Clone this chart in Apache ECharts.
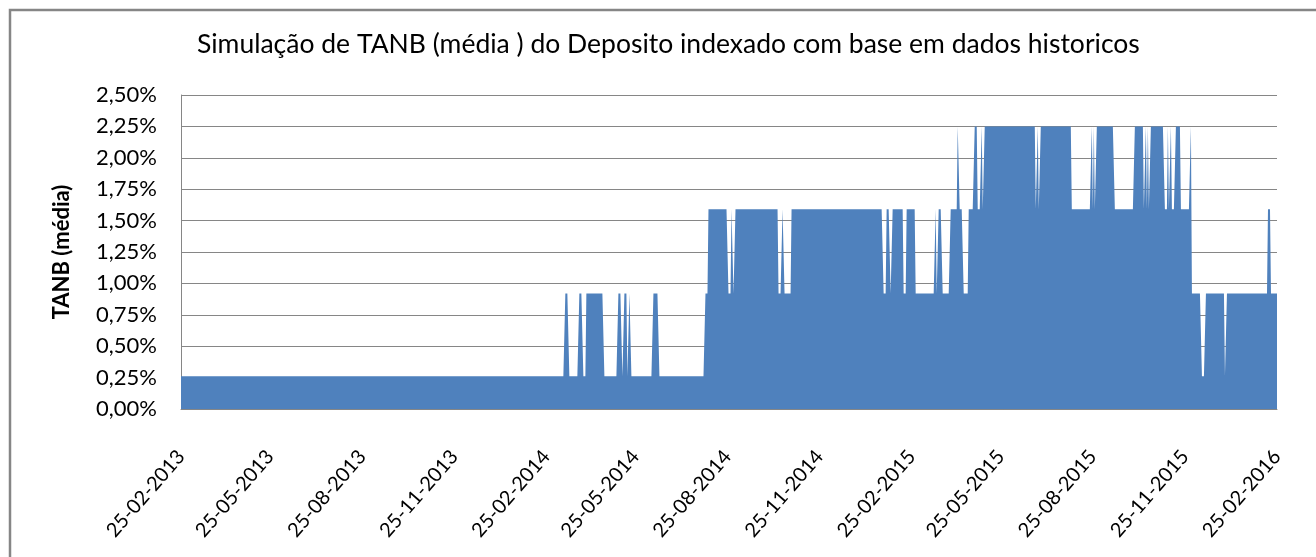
<!DOCTYPE html>
<html><head><meta charset="utf-8">
<script src="https://cdn.jsdelivr.net/npm/echarts@6/dist/echarts.min.js"></script>
<style>html,body{margin:0;padding:0;background:#fff}#c{width:1316px;height:557px}</style>
</head><body><div id="c"></div>
<script>
const titleText = 'Simulação de TANB (média ) do Deposito indexado com base em dados historicos';
const yAxisTitle = 'TANB (média)';
const firstDate = '25-02-2013';
const lastDate = '25-02-2016';
// months whose 25th day carries a label (every quarter)
const labelMonths = ['02', '05', '08', '11'];
// TANB (%): value holds from its start date until the next start date
const runStartDates = [
  '25-02-2013', '16-03-2014', '20-03-2014', '30-03-2014', '03-04-2014', '06-04-2014',
  '24-04-2014', '08-05-2014', '12-05-2014', '14-05-2014', '17-05-2014', '19-05-2014',
  '21-05-2014', '12-06-2014', '18-06-2014', '03-08-2014', '06-08-2014', '26-08-2014',
  '29-08-2014', '31-08-2014', '02-09-2014', '15-10-2014', '19-10-2014', '21-10-2014',
  '28-10-2014', '28-01-2015', '31-01-2015', '04-02-2015', '06-02-2015', '17-02-2015',
  '20-02-2015', '01-03-2015', '21-03-2015', '22-03-2015', '24-03-2015', '28-03-2015',
  '05-04-2015', '12-04-2015', '14-04-2015', '18-04-2015', '23-04-2015', '29-04-2015',
  '02-05-2015', '06-05-2015', '07-05-2015', '09-05-2015', '29-06-2015', '01-07-2015',
  '02-07-2015', '04-07-2015', '04-08-2015', '24-08-2015', '25-08-2015', '26-08-2015',
  '27-08-2015', '29-08-2015', '16-09-2015', '06-10-2015', '15-10-2015', '17-10-2015',
  '18-10-2015', '19-10-2015', '20-10-2015', '22-10-2015', '05-11-2015', '08-11-2015',
  '09-11-2015', '11-11-2015', '12-11-2015', '16-11-2015', '21-11-2015', '01-12-2015',
  '02-12-2015', '12-12-2015', '16-12-2015', '04-01-2016', '06-01-2016', '16-02-2016',
  '19-02-2016'
];
const runValues = [
  0.26, 0.92, 0.26, 0.92, 0.26, 0.92,
  0.26, 0.92, 0.26, 0.92, 0.26, 0.92,
  0.26, 0.92, 0.26, 0.92, 1.59, 0.92,
  1.59, 0.92, 1.59, 0.92, 1.59, 0.92,
  1.59, 0.92, 1.59, 0.92, 1.59, 0.92,
  1.59, 0.92, 1.59, 0.92, 1.59, 0.92,
  1.59, 2.25, 1.59, 0.92, 1.59, 2.25,
  1.59, 2.25, 1.59, 2.25, 1.59, 2.25,
  1.59, 2.25, 1.59, 2.25, 1.59, 2.25,
  1.59, 2.25, 1.59, 2.25, 1.59, 2.25,
  1.59, 2.25, 1.59, 2.25, 1.59, 2.25,
  1.59, 2.25, 1.59, 2.25, 1.59, 2.25,
  0.92, 0.26, 0.92, 0.26, 0.92, 1.59,
  0.92
];

function parseD(s) { const p = s.split('-'); return Date.UTC(+p[2], +p[1] - 1, +p[0]); }
function fmtD(t) {
  const d = new Date(t);
  const dd = String(d.getUTCDate()).padStart(2, '0');
  const mm = String(d.getUTCMonth() + 1).padStart(2, '0');
  return dd + '-' + mm + '-' + d.getUTCFullYear();
}
const DAY = 86400000;
const categories = [];
const values = [];
const runTimes = runStartDates.map(parseD);
let r = 0;
for (let t = parseD(firstDate); t <= parseD(lastDate); t += DAY) {
  while (r + 1 < runTimes.length && runTimes[r + 1] <= t) r++;
  categories.push(fmtD(t));
  values.push(runValues[r]);
}

const chart = echarts.init(document.getElementById('c'), null, { renderer: 'canvas' });
const FONT = 'Lato, "Open Sans", sans-serif';
chart.setOption({
  animation: false,
  backgroundColor: '#ffffff',
  title: {
    text: titleText, left: 197, top: 31, padding: 0,
    textStyle: { fontFamily: FONT, fontSize: 26.5, fontWeight: 'normal', color: '#000' }
  },
  graphic: [{
    type: 'rect', silent: true, z: -1,
    shape: { x: 10, y: 10, width: 1340, height: 580 },
    style: { fill: 'none', stroke: '#868686', lineWidth: 2.5 }
  }],
  grid: { left: 181, right: 39, top: 95, bottom: 148, containLabel: false },
  xAxis: {
    type: 'category', data: categories, boundaryGap: false,
    axisLine: { lineStyle: { color: '#868686', width: 1 } },
    axisTick: { show: false },
    splitLine: { show: false },
    axisLabel: {
      rotate: 49, margin: 44, fontFamily: FONT, fontSize: 20, color: '#000',
      interval: function (i, v) { return v.slice(0, 2) === '25' && labelMonths.indexOf(v.slice(3, 5)) >= 0; }
    }
  },
  yAxis: {
    type: 'value', min: 0, max: 2.5, interval: 0.25,
    name: yAxisTitle, nameLocation: 'middle', nameRotate: 90, nameGap: 108,
    nameTextStyle: { fontFamily: FONT, fontSize: 22, fontWeight: 'bold', color: '#000' },
    axisLine: { show: true, lineStyle: { color: '#868686', width: 1 } },
    axisTick: { show: false },
    splitLine: { lineStyle: { color: '#868686', width: 1 } },
    axisLabel: {
      margin: 24, fontFamily: FONT, fontSize: 22, color: '#000',
      formatter: function (v) { return v.toFixed(2).replace('.', ',') + '%'; }
    }
  },
  series: [{
    type: 'line', data: values, showSymbol: false, symbol: 'none', sampling: null,
    lineStyle: { width: 0, color: '#4F81BD' },
    itemStyle: { color: '#4F81BD' },
    areaStyle: { color: '#4F81BD', opacity: 1 },
    z: 3
  }]
});
</script>
</body></html>
